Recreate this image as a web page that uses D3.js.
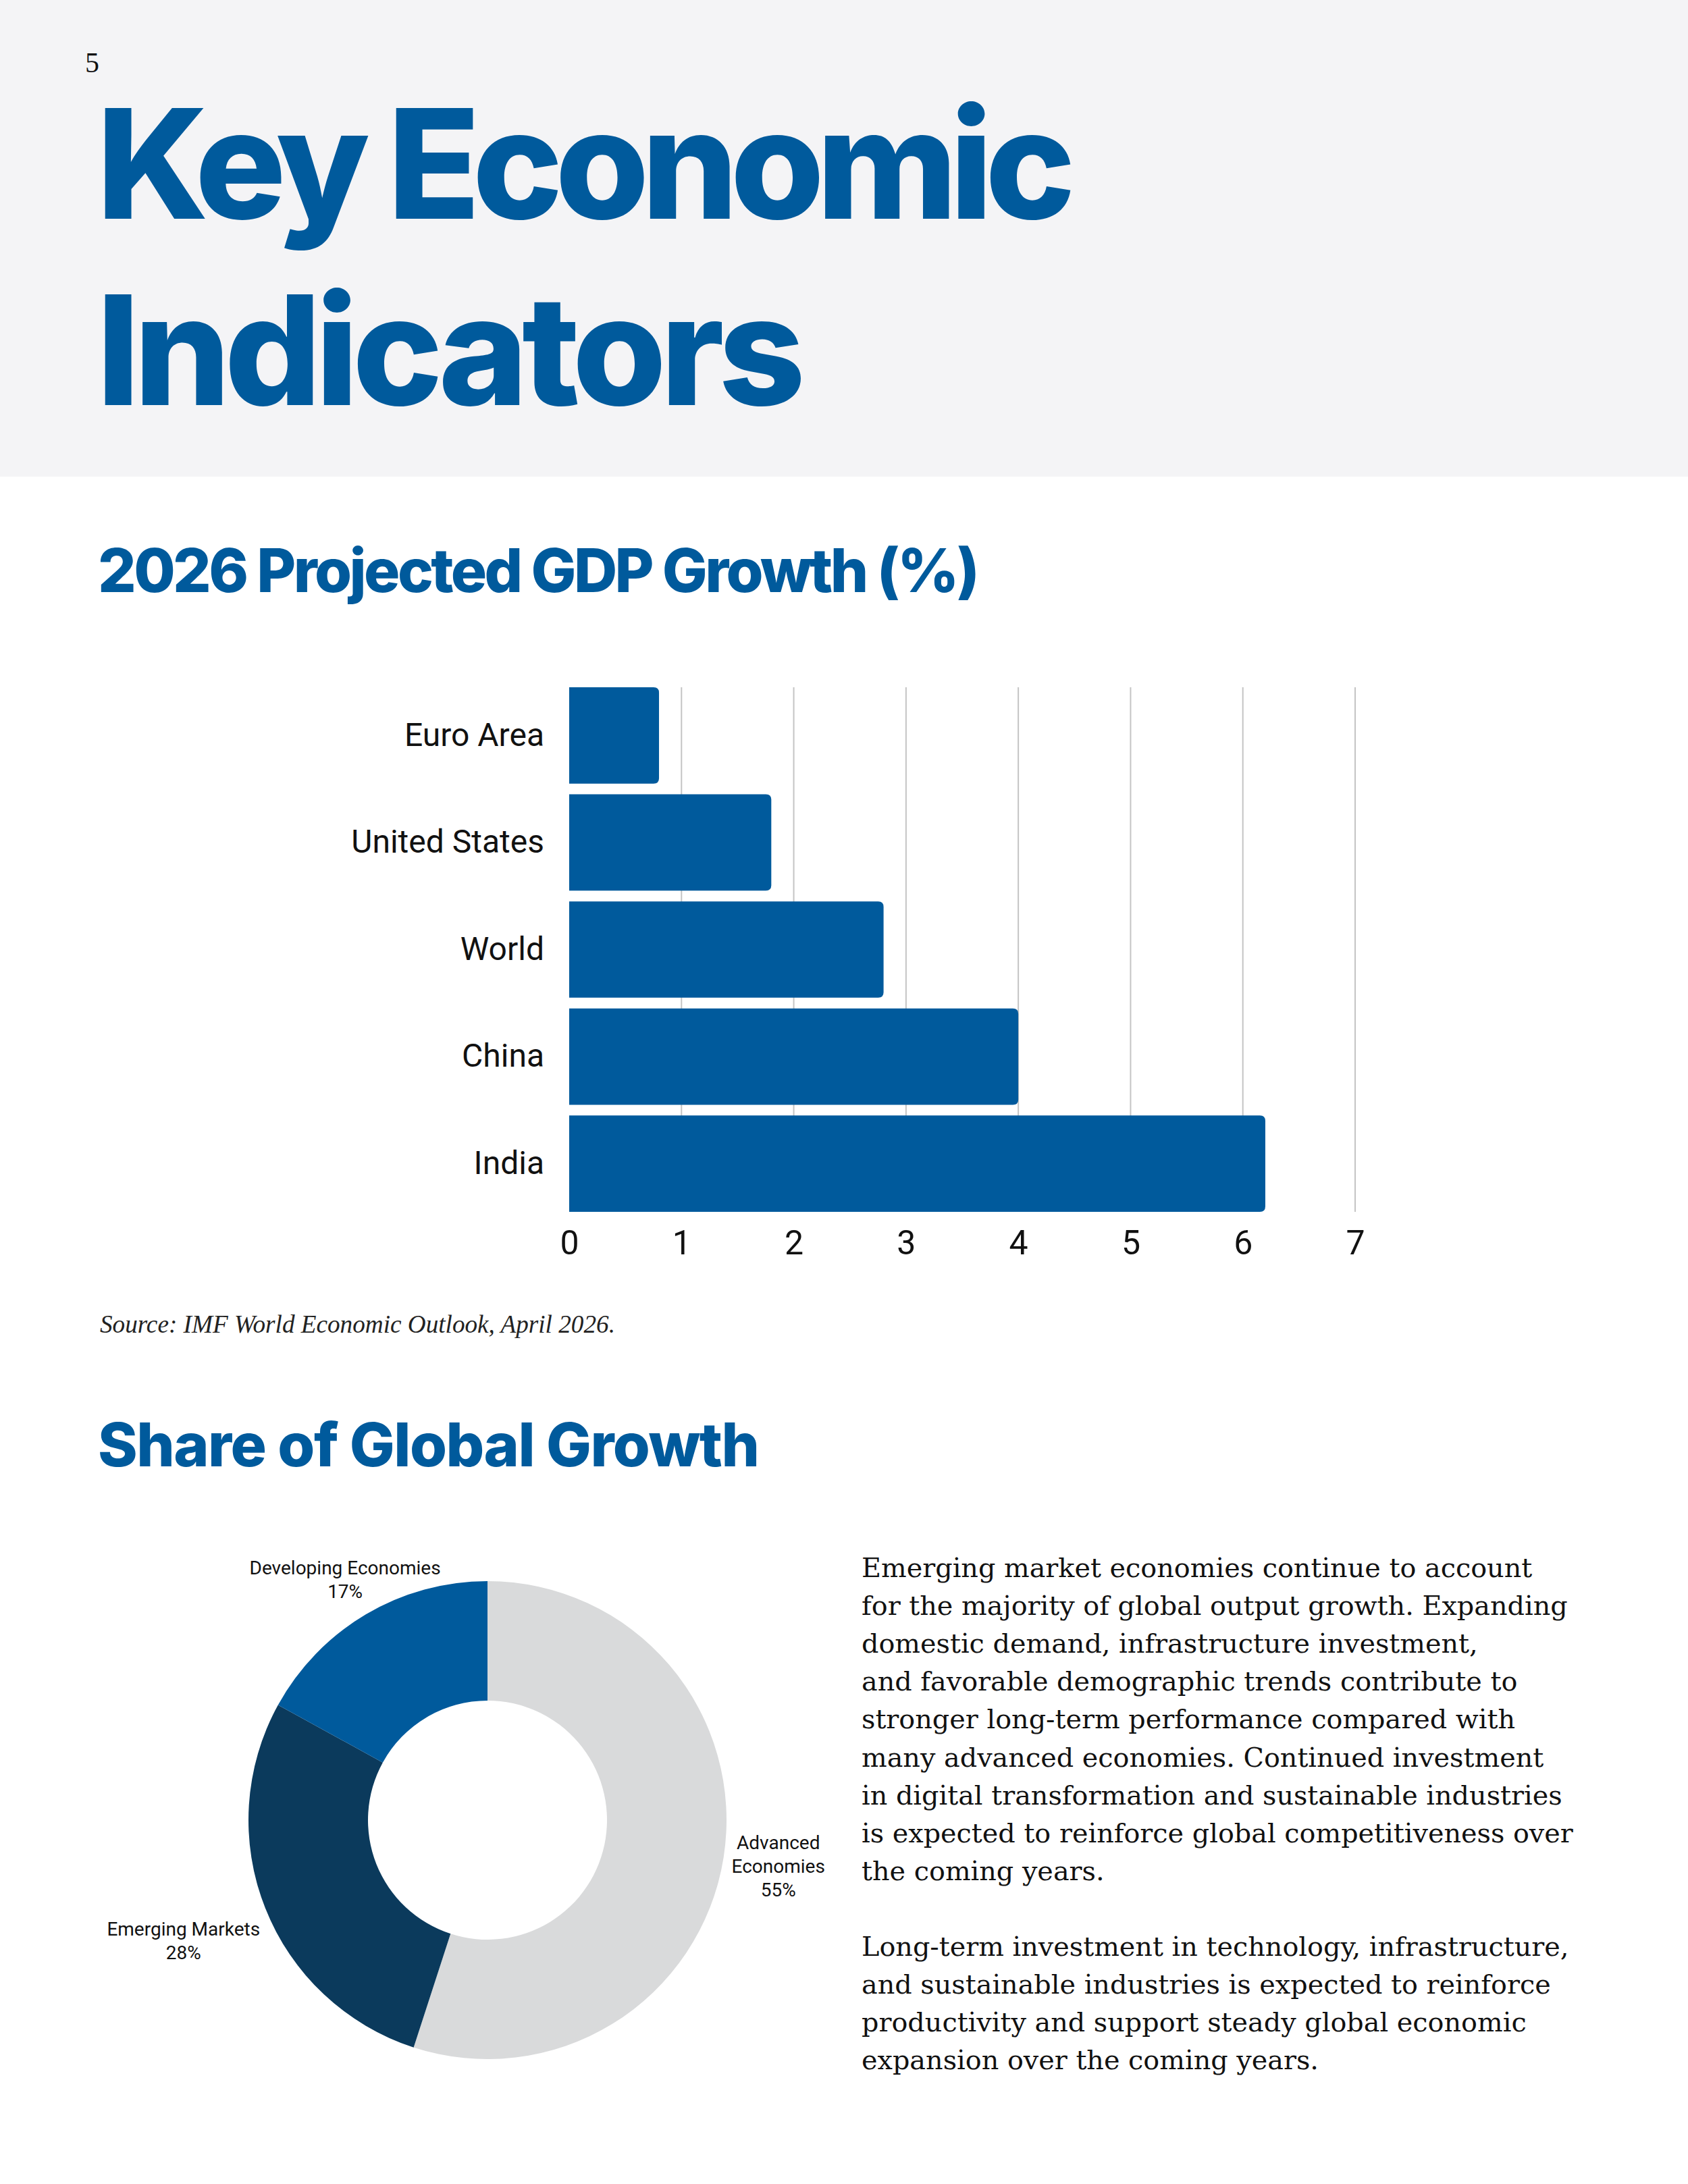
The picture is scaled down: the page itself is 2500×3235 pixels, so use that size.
<!DOCTYPE html>
<html>
<head>
<meta charset="utf-8">
<script src="https://cdn.jsdelivr.net/npm/d3@7"></script>
<style>
  body { margin: 0; background: #fff; }
  svg { display: block; }
</style>
</head>
<body>
<div id="page"></div>
<script>
const pageWidth = 2500;
const pageHeight = 3235;
const blue = "#005a9c";
const navy = "#0b3a5c";
const lightGray = "#d9dadb";

// bar chart data
const countries = ["Euro Area", "United States", "World", "China", "India"];
const gdpGrowth = [0.8, 1.8, 2.8, 4.0, 6.2];
const growthTicks = [0, 1, 2, 3, 4, 5, 6, 7];

// donut data
const shareNames = ["Advanced Economies", "Emerging Markets", "Developing Economies"];
const shareLabelLines = [["Advanced", "Economies"], ["Emerging Markets"], ["Developing Economies"]];
const shareValues = [55, 28, 17];
const shareColors = [lightGray, navy, blue];

const paragraphs = [
  ["Emerging market economies continue to account",
   "for the majority of global output growth. Expanding",
   "domestic demand, infrastructure investment,",
   "and favorable demographic trends contribute to",
   "stronger long-term performance compared with",
   "many advanced economies. Continued investment",
   "in digital transformation and sustainable industries",
   "is expected to reinforce global competitiveness over",
   "the coming years."],
  ["Long-term investment in technology, infrastructure,",
   "and sustainable industries is expected to reinforce",
   "productivity and support steady global economic",
   "expansion over the coming years."]
];

const svg = d3.select("#page")
  .append("svg")
  .attr("width", pageWidth)
  .attr("height", pageHeight);

svg.append("rect")
  .attr("width", pageWidth)
  .attr("height", pageHeight)
  .attr("fill", "#fff");

// header band
svg.append("rect")
  .attr("width", pageWidth)
  .attr("height", 706)
  .attr("fill", "#f4f4f6");

svg.append("text")
  .attr("x", 126)
  .attr("y", 107)
  .attr("font-family", "Liberation Serif, serif")
  .attr("font-size", 42)
  .attr("fill", "#111")
  .text("5");

// squeeze heading letters so the line ends where the reference does
function fitSpacing(sel, target) {
  const n = sel.text().length;
  const len = sel.node().getComputedTextLength();
  sel.attr("letter-spacing", (target - len) / (n - 1));
}

function heading(txt, x, y, size, target) {
  const t = svg.append("text")
    .attr("x", x)
    .attr("y", y)
    .attr("font-family", "Inter, sans-serif")
    .attr("font-weight", 800)
    .attr("font-size", size)
    .attr("fill", blue)
    .text(txt);
  fitSpacing(t, target);
  return t;
}

heading("Key Economic", 143, 324, 225, 1450);
heading("Indicators", 143, 600, 225, 1050);
heading("2026 Projected GDP Growth (%)", 145, 877, 89, 1306);
heading("Share of Global Growth", 145, 2172, 89, 980);

// ---- bar chart ----
const x = d3.scaleLinear()
  .domain([0, 7])
  .range([843, 2007]);

const y = d3.scaleBand()
  .domain(countries)
  .range([1018, 1795])
  .paddingInner(0.1)
  .paddingOuter(0);

svg.append("g")
  .selectAll("line")
  .data(growthTicks.filter(d => d > 0))
  .join("line")
  .attr("x1", d => x(d))
  .attr("x2", d => x(d))
  .attr("y1", y.range()[0])
  .attr("y2", y.range()[1])
  .attr("stroke", "#c4c4c4")
  .attr("stroke-width", 2);

const barRadius = 8;
svg.append("g")
  .selectAll("path")
  .data(countries)
  .join("path")
  .attr("fill", blue)
  .attr("d", (c, i) => {
    const x0 = x(0), x1 = x(gdpGrowth[i]);
    const y0 = y(c), h = y.bandwidth();
    const r = barRadius;
    return `M${x0},${y0}H${x1 - r}Q${x1},${y0} ${x1},${y0 + r}` +
      `V${y0 + h - r}Q${x1},${y0 + h} ${x1 - r},${y0 + h}H${x0}Z`;
  });

const xAxis = svg.append("g")
  .attr("transform", `translate(0,${y.range()[1]})`)
  .call(d3.axisBottom(x)
    .tickValues(growthTicks)
    .tickFormat(d3.format("d"))
    .tickSize(0)
    .tickPadding(27));
xAxis.select(".domain").remove();
xAxis.selectAll("text")
  .attr("font-family", "Roboto, sans-serif")
  .attr("font-size", 50)
  .attr("fill", "#111");

const yAxis = svg.append("g")
  .attr("transform", `translate(${x(0)},0)`)
  .call(d3.axisLeft(y).tickSize(0).tickPadding(37));
yAxis.select(".domain").remove();
yAxis.selectAll("text")
  .attr("font-family", "Roboto, sans-serif")
  .attr("font-size", 48)
  .attr("fill", "#111");

// source note
const source = svg.append("text")
  .attr("x", 148)
  .attr("y", 1974)
  .attr("font-family", "Liberation Serif, serif")
  .attr("font-style", "italic")
  .attr("font-size", 38)
  .attr("fill", "#222")
  .text("Source: IMF World Economic Outlook, April 2026.");
source.attr("font-size", 38 * 763 / source.node().getComputedTextLength());

// ---- donut ----
const cx = 722, cy = 2696;
const outerR = 354, innerR = 177;

const pie = d3.pie().sort(null).value(d => d);
const arcs = pie(shareValues);
const arc = d3.arc().innerRadius(innerR).outerRadius(outerR);

const donut = svg.append("g")
  .attr("transform", `translate(${cx},${cy})`);

donut.selectAll("path")
  .data(arcs)
  .join("path")
  .attr("d", arc)
  .attr("fill", (d, i) => shareColors[i]);

const labelSize = 28;
const lineH = 35;
arcs.forEach((a, i) => {
  const mid = (a.startAngle + a.endAngle) / 2;
  const dx = Math.sin(mid), dy = -Math.cos(mid);
  const lines = shareLabelLines[i].concat([shareValues[i] + "%"]);
  const g = donut.append("g").attr("class", "slice-label");
  const t = g.append("text")
    .attr("text-anchor", "middle")
    .attr("font-family", "Roboto, sans-serif")
    .attr("font-size", labelSize)
    .attr("fill", "#111");
  t.selectAll("tspan")
    .data(lines)
    .join("tspan")
    .attr("x", 0)
    .attr("y", (d, k) => (k - (lines.length - 1) / 2) * lineH)
    .attr("dy", "0.35em")
    .text(d => d);
  const bb = t.node().getBBox();
  const halfW = bb.width / 2 + 4;
  const halfH = lines.length * lineH / 2 + 10;
  const edge = Math.min(halfW / Math.max(Math.abs(dx), 1e-6), halfH / Math.max(Math.abs(dy), 1e-6));
  const dist = outerR + 8 + edge;
  g.attr("transform", `translate(${dx * dist},${dy * dist})`);
});

// ---- body text ----
const body = svg.append("text")
  .attr("font-family", "DejaVu Serif, serif")
  .attr("font-size", 42)
  .attr("fill", "#111");

let row = 0;
paragraphs.forEach((p, pi) => {
  if (pi > 0) row += 1;
  p.forEach(line => {
    body.append("tspan")
      .attr("x", 1276)
      .attr("y", 2336 + row * 56.1)
      .text(line);
    row += 1;
  });
});
const widest = d3.max(body.selectAll("tspan").nodes(), n => n.getComputedTextLength());
body.attr("font-size", 42 * 1054 / widest);
</script>
</body>
</html>
